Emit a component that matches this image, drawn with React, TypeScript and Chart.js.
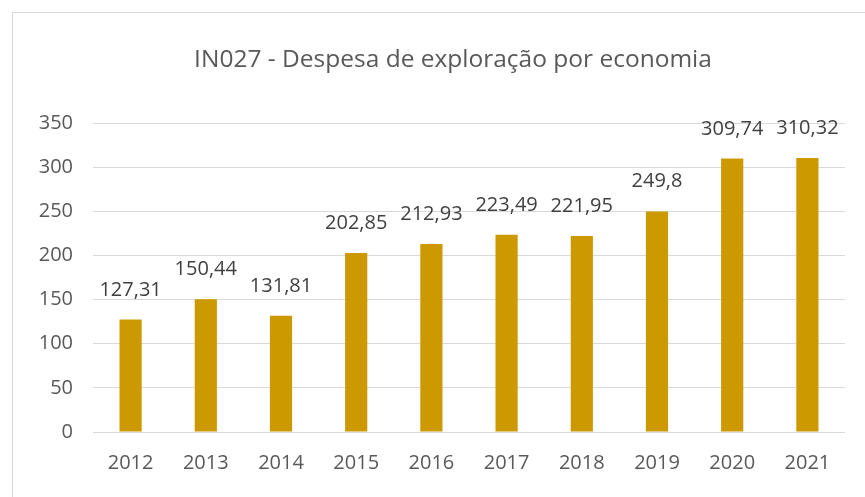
import React, { useEffect, useRef } from "react";
import { Chart, registerables } from "chart.js";

Chart.register(...registerables);

const TITLE = "IN027 - Despesa de exploração por economia";
const categories = ["2012", "2013", "2014", "2015", "2016", "2017", "2018", "2019", "2020", "2021"];
const values = [127.31, 150.44, 131.81, 202.85, 212.93, 223.49, 221.95, 249.8, 309.74, 310.32];
const yTicks = [0, 50, 100, 150, 200, 250, 300, 350];

const FONT = "'Open Sans', 'Noto Sans', sans-serif";

function fmt(v: number): string {
  return String(v).replace(".", ",");
}

const labelsPlugin = {
  id: "valueLabels",
  afterDatasetsDraw(chart: any) {
    const { ctx } = chart;
    const meta = chart.getDatasetMeta(0);
    ctx.save();
    ctx.font = `20px ${FONT}`;
    ctx.fillStyle = "#404040";
    ctx.textAlign = "center";
    ctx.textBaseline = "alphabetic";
    meta.data.forEach((bar: any, i: number) => {
      ctx.fillText(fmt(values[i]), bar.x, bar.y - 24);
    });
    ctx.restore();
  },
};

const titlePlugin = {
  id: "customTitle",
  afterDraw(chart: any) {
    const { ctx } = chart;
    ctx.save();
    ctx.font = `24.5px ${FONT}`;
    ctx.fillStyle = "#595959";
    ctx.textAlign = "center";
    ctx.textBaseline = "middle";
    ctx.fillText(TITLE, 453, 60);
    ctx.restore();
  },
};

export default function App() {
  const ref = useRef<HTMLCanvasElement | null>(null);
  useEffect(() => {
    if (!ref.current) return;
    const chart = new Chart(ref.current, {
      type: "bar",
      data: {
        labels: categories,
        datasets: [
          {
            data: values,
            backgroundColor: "#CC9900",
            borderWidth: 0,
            barPercentage: 0.295,
            categoryPercentage: 1,
          },
        ],
      },
      options: {
        responsive: false,
        animation: false,
        events: [],
        layout: { padding: { top: 123, right: 20, left: 0, bottom: 0 } },
        plugins: {
          legend: { display: false },
          title: { display: false },
          tooltip: { enabled: false },
        },
        scales: {
          x: {
            grid: { display: false, drawTicks: false },
            border: { display: false },
            ticks: {
              color: "#595959",
              font: { family: FONT, size: 20 },
              padding: 19,
              maxRotation: 0,
            },
            afterFit(scale: any) {
              scale.height = 65;
            },
          },
          y: {
            min: 0,
            max: 350,
            afterBuildTicks(scale: any) {
              scale.ticks = yTicks.map((v) => ({ value: v }));
            },
            grid: { color: "#D9D9D9", lineWidth: 1, drawTicks: false },
            border: { display: false },
            ticks: {
              color: "#595959",
              font: { family: FONT, size: 20 },
              padding: 20,
            },
            afterFit(scale: any) {
              scale.width = 93;
            },
          },
        },
      },
      plugins: [labelsPlugin, titlePlugin],
    });
    return () => chart.destroy();
  }, []);

  return (
    <>
      <div
        style={{
          position: "fixed",
          left: 12,
          top: 12,
          width: 900,
          height: 520,
          border: "1px solid #D9D9D9",
          boxSizing: "border-box",
        }}
      />
      <canvas
        ref={ref}
        width={865}
        height={497}
        style={{ position: "fixed", left: 0, top: 0, width: 865, height: 497 }}
      />
    </>
  );
}
